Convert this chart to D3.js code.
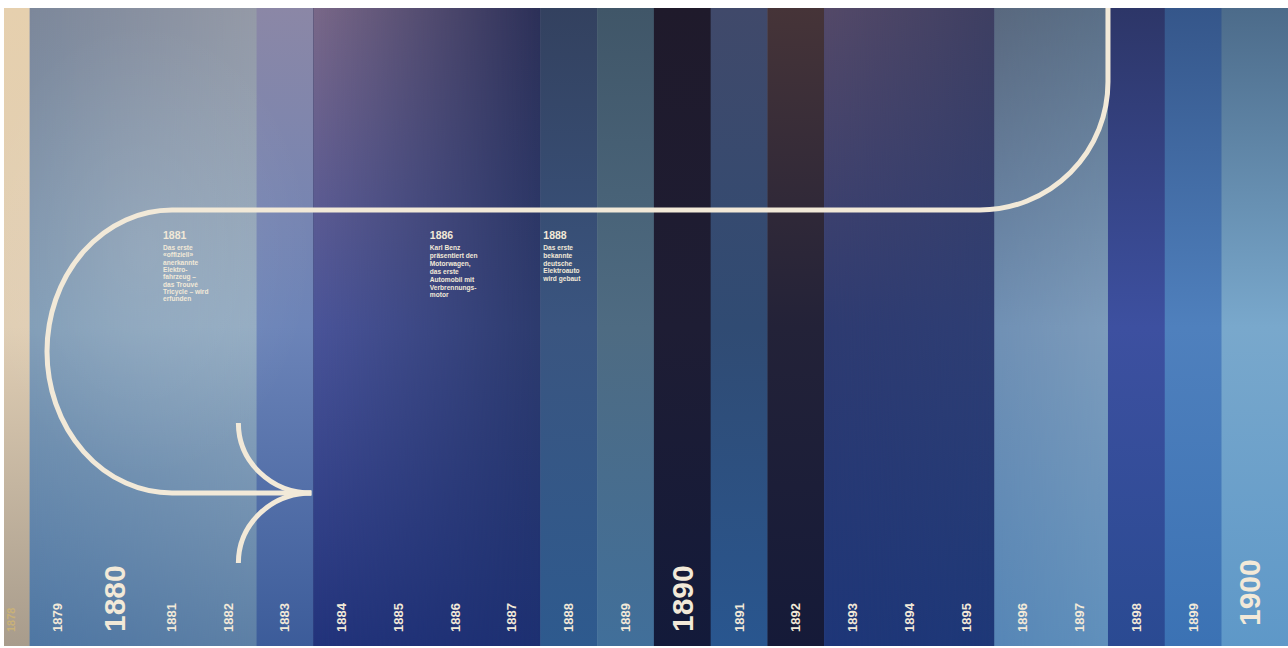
<!DOCTYPE html>
<html>
<head>
<meta charset="utf-8">
<script src="https://cdn.jsdelivr.net/npm/d3@7"></script>
<style>
  html, body { margin: 0; padding: 0; background: #ffffff; }
  svg { display: block; }
  text { font-family: "Liberation Sans", Arial, sans-serif; }
</style>
</head>
<body>
<svg id="chart" width="1288" height="648"></svg>
<script>
// ---------------- DATA ----------------
const years = [1878, 1879, 1880, 1881, 1882, 1883, 1884, 1885, 1886, 1887, 1888, 1889,
               1890, 1891, 1892, 1893, 1894, 1895, 1896, 1897, 1898, 1899, 1900];
const majorYears = [1880, 1890, 1900];
// colour blocks (first year, last year)
const blockStart = [1878, 1879, 1883, 1884, 1888, 1889, 1890, 1891, 1892, 1893, 1896, 1898, 1899, 1900];
const blockEnd   = [1878, 1882, 1883, 1887, 1888, 1889, 1890, 1891, 1892, 1895, 1897, 1898, 1899, 1900];
const eventYears = [1881, 1886, 1888];
const eventTexts = [
  ["Das erste", "«offiziell»", "anerkannte", "Elektro-", "fahrzeug –", "das Trouvé", "Tricycle – wird", "erfunden"],
  ["Karl Benz", "präsentiert den", "Motorwagen,", "das erste", "Automobil mit", "Verbrennungs-", "motor"],
  ["Das erste", "bekannte", "deutsche", "Elektroauto", "wird gebaut"]
];

// ---------------- STYLE ----------------
// per block: [top, middle, bottom] at left edge, and at right edge
const blockLeft = [
  ["#e6d0ae", "#e0ceb4", "#a89c8c"],
  ["#7c879a", "#809cb6", "#4e76a3"],
  ["#8b87a6", "#6c84b8", "#3c5c9a"],
  ["#7a6888", "#4a5499", "#22337b"],
  ["#33415f", "#3a5580", "#2e5a8e"],
  ["#405668", "#4e6b82", "#416f9a"],
  ["#1f1a2b", "#1e1d34", "#131a3a"],
  ["#40496a", "#304b73", "#29568f"],
  ["#463438", "#232238", "#151a38"],
  ["#544968", "#2e3b71", "#1e3678"],
  ["#59687e", "#7090b4", "#5686b6"],
  ["#2d3668", "#3d50a0", "#2a4a92"],
  ["#35568a", "#4f80bd", "#3b72b4"],
  ["#4c6b8a", "#79a8cc", "#5e98c8"]
];
const blockRight = [
  ["#e6d0ae", "#e0ceb4", "#a89c8c"],
  ["#959aa7", "#94acc2", "#5d80a6"],
  ["#8b87a6", "#6c84b8", "#3c5c9a"],
  ["#2c3058", "#2d3b6e", "#1d3072"],
  ["#33415f", "#3a5580", "#2e5a8e"],
  ["#405668", "#4e6b82", "#416f9a"],
  ["#1f1a2b", "#1e1d34", "#131a3a"],
  ["#40496a", "#304b73", "#29568f"],
  ["#463438", "#232238", "#151a38"],
  ["#3e3f62", "#2e3e74", "#1e3878"],
  ["#5b7088", "#7d9cbc", "#6090bc"],
  ["#2d3668", "#3d50a0", "#2a4a92"],
  ["#35568a", "#4f80bd", "#3b72b4"],
  ["#4c6b8a", "#79a8cc", "#5e98c8"]
];
const cream = "#f2e9d8";

// ---------------- LAYOUT ----------------
const W = 1288, H = 648;
const wall = { left: 4, right: 1288, top: 8, bottom: 646 };
const x = d3.scaleLinear().domain([1879, 1900]).range([29.5, 1221.5]);
const colW = x(1880) - x(1879);
const y = d3.scaleLinear().domain([0, 1]).range([wall.top, wall.bottom]);

const svg = d3.select("#chart");
const defs = svg.append("defs");

defs.append("clipPath").attr("id", "wallClip")
  .append("rect")
  .attr("x", wall.left).attr("y", wall.top)
  .attr("width", wall.right - wall.left).attr("height", wall.bottom - wall.top);

// horizontal fade mask
const fade = defs.append("linearGradient").attr("id", "hfade")
  .attr("x1", 0).attr("x2", 1).attr("y1", 0).attr("y2", 0);
fade.append("stop").attr("offset", 0).attr("stop-color", "#fff");
fade.append("stop").attr("offset", 1).attr("stop-color", "#000");

function vGrad(id, cols) {
  const g = defs.append("linearGradient").attr("id", id)
    .attr("x1", 0).attr("x2", 0).attr("y1", 0).attr("y2", 1);
  g.append("stop").attr("offset", 0).attr("stop-color", cols[0]);
  g.append("stop").attr("offset", 0.5).attr("stop-color", cols[1]);
  g.append("stop").attr("offset", 1).attr("stop-color", cols[2]);
}

const wallG = svg.append("g").attr("clip-path", "url(#wallClip)");

blockStart.forEach((s, i) => {
  const e = blockEnd[i];
  let x0 = x(s), x1 = x(e) + colW;
  if (i === 0) x0 = wall.left;
  if (i === blockStart.length - 1) x1 = wall.right;
  vGrad("gR" + i, blockRight[i]);
  wallG.append("rect")
    .attr("x", x0).attr("y", wall.top)
    .attr("width", x1 - x0 + 0.5).attr("height", wall.bottom - wall.top)
    .attr("fill", `url(#gR${i})`);
  if (e > s) {
    vGrad("gL" + i, blockLeft[i]);
    const m = defs.append("mask").attr("id", "m" + i)
      .attr("maskUnits", "userSpaceOnUse")
      .attr("x", x0).attr("y", wall.top).attr("width", x1 - x0).attr("height", wall.bottom - wall.top);
    m.append("rect")
      .attr("x", x0).attr("y", wall.top)
      .attr("width", x1 - x0).attr("height", wall.bottom - wall.top)
      .attr("fill", "url(#hfade)");
    wallG.append("rect")
      .attr("x", x0).attr("y", wall.top)
      .attr("width", x1 - x0).attr("height", wall.bottom - wall.top)
      .attr("fill", `url(#gL${i})`)
      .attr("mask", `url(#m${i})`);
  }
});

// soft light glow (photo lighting)
const glow = defs.append("radialGradient").attr("id", "glow")
  .attr("cx", 0.5).attr("cy", 0.5).attr("r", 0.5);
glow.append("stop").attr("offset", 0).attr("stop-color", "#ffffff").attr("stop-opacity", 0.10);
glow.append("stop").attr("offset", 1).attr("stop-color", "#ffffff").attr("stop-opacity", 0);
wallG.append("ellipse")
  .attr("cx", x(1881)).attr("cy", y(0.38))
  .attr("rx", 170).attr("ry", 230)
  .attr("fill", "url(#glow)");

// ---------------- YEAR LABELS ----------------
const labelBase = 632;
function labelX(d) {
  if (d === 1878) return wall.left + 11;          // faint label on the cut-off first column
  return x(d) + colW / 2 + (majorYears.includes(d) ? 10.5 : 4.5);
}
wallG.selectAll("text.year")
  .data(years)
  .join("text")
  .attr("class", "year")
  .attr("transform", d => `translate(${labelX(d)},${d === 1900 ? labelBase - 6 : labelBase}) rotate(-90)`)
  .attr("fill", d => d === 1878 ? "#c9b177" : cream)
  .attr("font-size", d => majorYears.includes(d) ? 30 : (d === 1878 ? 11 : 13))
  .attr("font-weight", "bold")
  .text(d => d);

// ---------------- TIMELINE PATH ----------------
const xTurn = x(1898);          // vertical descent at the left edge of 1898
const yTop = 210, yBot = 493;
const rCorner = 128;
const loopRx = 125, loopRy = (yBot - yTop) / 2;
const loopCx = 172;
const tipX = x(1884) - 2;
const barbX = x(1882) + colW * 0.68;
const barbR = tipX - barbX;

const pathD = [
  `M${xTurn},${wall.top}`,
  `L${xTurn},${yTop - rCorner}`,
  `A${rCorner},${rCorner} 0 0 1 ${xTurn - rCorner},${yTop}`,
  `L${loopCx},${yTop}`,
  `A${loopRx},${loopRy} 0 0 0 ${loopCx - loopRx},${yTop + loopRy}`,
  `A${loopRx},${loopRy} 0 0 0 ${loopCx},${yBot}`,
  `L${tipX},${yBot}`
].join(" ");

const lineG = svg.append("g").attr("clip-path", "url(#wallClip)")
  .attr("fill", "none").attr("stroke", cream).attr("stroke-width", 5);
lineG.append("path").attr("d", pathD);
lineG.append("path")
  .attr("d", `M${barbX},${yBot - 70} A${barbR},70 0 0 0 ${tipX},${yBot}`);
lineG.append("path")
  .attr("d", `M${barbX},${yBot + 70} A${barbR},70 0 0 1 ${tipX},${yBot}`);

// ---------------- EVENT NOTES ----------------
const eventOffset = { 1881: 20, 1886: 3, 1888: 3 };
const lineGap = [7.3, 7.9, 7.8];
eventYears.forEach((yr, i) => {
  const gx = x(yr) + eventOffset[yr];
  const g = svg.append("g").attr("fill", cream);
  g.append("text")
    .attr("x", gx).attr("y", 238.5)
    .attr("font-size", 10.5).attr("font-weight", "bold")
    .text(yr);
  g.selectAll("text.l")
    .data(eventTexts[i])
    .join("text")
    .attr("class", "l")
    .attr("x", gx)
    .attr("y", (d, j) => 250 + j * lineGap[i])
    .attr("font-size", 6.6)
    .attr("font-weight", "bold")
    .text(d => d);
});
</script>
</body>
</html>
